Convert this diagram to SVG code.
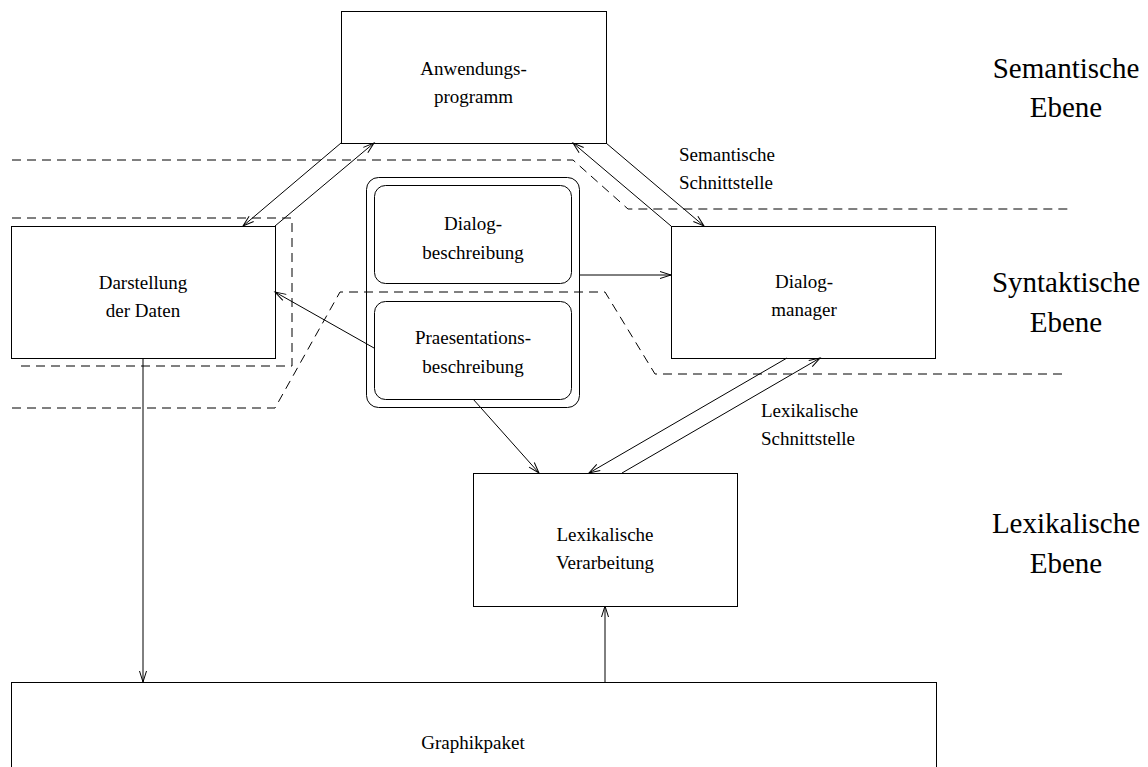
<svg xmlns="http://www.w3.org/2000/svg" width="1148" height="767" viewBox="0 0 1148 767">
  <style>
    .box { fill: none; stroke: #000; stroke-width: 1; }
    .lbl { font-family: "Liberation Serif", "Times New Roman", serif; font-size: 19px; fill: #000; text-anchor: middle; }
    .note { font-family: "Liberation Serif", "Times New Roman", serif; font-size: 19px; fill: #000; }
    .level { font-family: "Liberation Serif", "Times New Roman", serif; font-size: 29px; fill: #000; text-anchor: middle; }
    .dash { fill: none; stroke: #000; stroke-width: 1; stroke-dasharray: 9 6; }
    .conn { fill: none; stroke: #000; stroke-width: 1; marker-end: url(#head); }
  </style>
  <defs>
    <marker id="head" markerUnits="userSpaceOnUse" markerWidth="14" markerHeight="10" viewBox="-12 -5 14 10" refX="0" refY="0" orient="auto">
      <path d="M-11,-3.5 L0,0 L-11,3.5" fill="none" stroke="#000" stroke-width="1"/>
    </marker>
  </defs>
  <rect width="1148" height="767" fill="#fff"/>

  <!-- layer boundaries -->
  <g id="boundaries">
    <path class="dash" d="M12,160 H573 L628,209 H1068"/>
    <path class="dash" d="M12,408 H275 L340,292 H605 L655,374 H1068"/>
    <path class="dash" d="M12,218 H292 V366 H15"/>
  </g>

  <g id="anwendungsprogramm">
    <rect class="box" x="341.5" y="11.5" width="265" height="132"/>
    <text class="lbl" x="473.5" y="75">Anwendungs-</text>
    <text class="lbl" x="473.5" y="103">programm</text>
  </g>

  <g id="darstellung">
    <rect class="box" x="11.5" y="226.5" width="264" height="132"/>
    <text class="lbl" x="143" y="289">Darstellung</text>
    <text class="lbl" x="143" y="317">der Daten</text>
  </g>

  <g id="beschreibungen">
    <rect class="box" x="366.5" y="177.5" width="213" height="230" rx="12"/>
    <g id="dialogbeschreibung">
      <rect class="box" x="374.5" y="185.5" width="197" height="98" rx="11"/>
      <text class="lbl" x="473" y="230">Dialog-</text>
      <text class="lbl" x="473" y="259">beschreibung</text>
    </g>
    <g id="praesentationsbeschreibung">
      <rect class="box" x="374.5" y="301.5" width="197" height="98" rx="11"/>
      <text class="lbl" x="473" y="344">Praesentations-</text>
      <text class="lbl" x="473" y="373">beschreibung</text>
    </g>
  </g>

  <g id="dialogmanager">
    <rect class="box" x="671.5" y="226.5" width="264" height="132"/>
    <text class="lbl" x="804" y="288">Dialog-</text>
    <text class="lbl" x="804" y="316">manager</text>
  </g>

  <g id="lexikalische-verarbeitung">
    <rect class="box" x="473.5" y="473.5" width="264" height="133"/>
    <text class="lbl" x="605" y="541">Lexikalische</text>
    <text class="lbl" x="605" y="569">Verarbeitung</text>
  </g>

  <g id="graphikpaket">
    <rect class="box" x="11.5" y="682.5" width="925" height="100"/>
    <text class="lbl" x="473" y="749">Graphikpaket</text>
  </g>

  <g id="connectors">
    <line class="conn" x1="341" y1="143" x2="243" y2="226"/>
    <line class="conn" x1="275" y1="226" x2="374" y2="143"/>
    <line class="conn" x1="671" y1="226" x2="573" y2="143"/>
    <line class="conn" x1="606" y1="143" x2="704" y2="226"/>
    <line class="conn" x1="580" y1="275" x2="671" y2="275"/>
    <line class="conn" x1="374" y1="348" x2="275" y2="292"/>
    <line class="conn" x1="473" y1="399" x2="539" y2="473"/>
    <line class="conn" x1="787" y1="358" x2="589" y2="473"/>
    <line class="conn" x1="622" y1="473" x2="820" y2="358"/>
    <line class="conn" x1="143" y1="358" x2="143" y2="682"/>
    <line class="conn" x1="605" y1="682" x2="605" y2="606"/>
  </g>

  <g id="interface-labels">
    <text class="note" x="679" y="161">Semantische</text>
    <text class="note" x="679" y="189">Schnittstelle</text>
    <text class="note" x="761" y="417">Lexikalische</text>
    <text class="note" x="761" y="445">Schnittstelle</text>
  </g>

  <g id="level-labels">
    <text class="level" x="1066" y="78">Semantische</text>
    <text class="level" x="1066" y="117">Ebene</text>
    <text class="level" x="1066" y="292">Syntaktische</text>
    <text class="level" x="1066" y="332">Ebene</text>
    <text class="level" x="1066" y="533">Lexikalische</text>
    <text class="level" x="1066" y="573">Ebene</text>
  </g>
</svg>
